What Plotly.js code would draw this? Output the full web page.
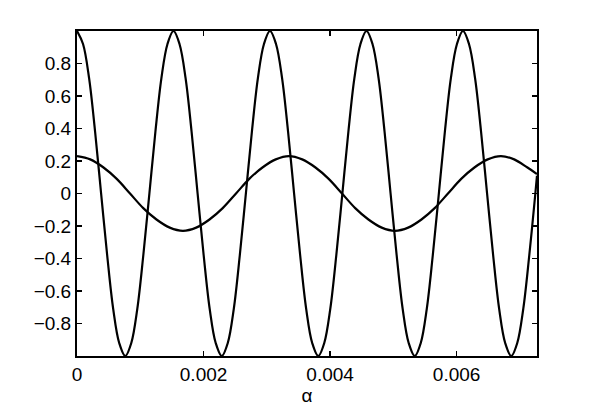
<!DOCTYPE html>
<html>
<head>
<meta charset="utf-8">
<script src="https://cdn.plot.ly/plotly-3.0.1.min.js"></script>
<style>
  html, body { margin: 0; padding: 0; background: #fff; }
  #chart { width: 592px; height: 415px; }
</style>
</head>
<body>
<div id="chart"></div>
<script>
// fast oscillation, read at ~1/16 period steps
const fastX = [0, 0.0000953, 0.000191, 0.000286, 0.000381, 0.000477, 0.000572, 0.000667,
    0.000763, 0.000858, 0.000953, 0.001048, 0.001144, 0.001239, 0.001334, 0.001430,
    0.001525, 0.001620, 0.001716, 0.001811, 0.001906, 0.002002, 0.002097, 0.002192,
    0.002288, 0.002383, 0.002478, 0.002573, 0.002669, 0.002764, 0.002859, 0.002955,
    0.003050, 0.003145, 0.003241, 0.003336, 0.003431, 0.003527, 0.003622, 0.003717,
    0.003813, 0.003908, 0.004003, 0.004098, 0.004194, 0.004289, 0.004384, 0.004480,
    0.004575, 0.004670, 0.004766, 0.004861, 0.004956, 0.005052, 0.005147, 0.005242,
    0.005338, 0.005433, 0.005528, 0.005623, 0.005719, 0.005814, 0.005909, 0.006005,
    0.006100, 0.006195, 0.006291, 0.006386, 0.006481, 0.006577, 0.006672, 0.006767,
    0.006863, 0.006958, 0.007053, 0.007148, 0.007244, 0.00727];
const fastY = [1, 0.92, 0.71, 0.38, 0, -0.38, -0.71, -0.92, -1, -0.92, -0.71, -0.38, 0, 0.38, 0.71, 0.92,
    1, 0.92, 0.71, 0.38, 0, -0.38, -0.71, -0.92, -1, -0.92, -0.71, -0.38, 0, 0.38, 0.71, 0.92,
    1, 0.92, 0.71, 0.38, 0, -0.38, -0.71, -0.92, -1, -0.92, -0.71, -0.38, 0, 0.38, 0.71, 0.92,
    1, 0.92, 0.71, 0.38, 0, -0.38, -0.71, -0.92, -1, -0.92, -0.71, -0.38, 0, 0.38, 0.71, 0.92,
    1, 0.92, 0.71, 0.38, 0, -0.38, -0.71, -0.92, -1, -0.92, -0.71, -0.38, 0, 0.11];

// slow oscillation, small amplitude
const slowX = [0, 0.000209, 0.000419, 0.000628, 0.000838, 0.001047, 0.001256, 0.001466,
    0.001675, 0.001884, 0.002094, 0.002303, 0.002513, 0.002722, 0.002931, 0.003141,
    0.003350, 0.003559, 0.003769, 0.003978, 0.004188, 0.004397, 0.004606, 0.004816,
    0.005025, 0.005234, 0.005444, 0.005653, 0.005863, 0.006072, 0.006281, 0.006491,
    0.006700, 0.006909, 0.007119, 0.00727];
const slowY = [0.23, 0.21, 0.16, 0.09, 0, -0.09, -0.16, -0.21, -0.23, -0.21, -0.16, -0.09, 0, 0.09, 0.16, 0.21,
    0.23, 0.21, 0.16, 0.09, 0, -0.09, -0.16, -0.21, -0.23, -0.21, -0.16, -0.09, 0, 0.09, 0.16, 0.21,
    0.23, 0.21, 0.16, 0.12];

const xTicks = [0, 0.002, 0.004, 0.006];
const xTickText = ['0', '0.002', '0.004', '0.006'];
const yTicks = [-0.8, -0.6, -0.4, -0.2, 0, 0.2, 0.4, 0.6, 0.8];
const yTickText = ['\u22120.8', '\u22120.6', '\u22120.4', '\u22120.2', '0', '0.2', '0.4', '0.6', '0.8'];

const lineStyle = { color: '#000', width: 2.2, shape: 'spline', smoothing: 1 };

const traces = [
    { x: fastX, y: fastY, type: 'scatter', mode: 'lines', line: lineStyle, hoverinfo: 'skip' },
    { x: slowX, y: slowY, type: 'scatter', mode: 'lines', line: lineStyle, hoverinfo: 'skip' }
];

const axisBase = {
    showline: true,
    linecolor: '#000',
    linewidth: 2,
    mirror: 'ticks',
    ticks: 'inside',
    ticklen: 5,
    tickwidth: 1.5,
    tickcolor: '#000',
    showgrid: false,
    zeroline: false,
    tickfont: { family: 'Liberation Sans, Arial, sans-serif', size: 19, color: '#000' }
};

const layout = {
    width: 592,
    height: 415,
    margin: { l: 77, r: 55, t: 31, b: 59 },
    paper_bgcolor: '#fff',
    plot_bgcolor: '#fff',
    showlegend: false,
    font: { family: 'Liberation Sans, Arial, sans-serif', size: 19, color: '#000' },
    xaxis: {
        ...axisBase,
        range: [0, 0.00727],
        tickmode: 'array',
        tickvals: xTicks,
        ticktext: xTickText,
        title: { text: 'α', standoff: 0, font: { size: 19 } }
    },
    yaxis: {
        ...axisBase,
        range: [-1, 1],
        tickmode: 'array',
        tickvals: yTicks,
        ticktext: yTickText
    }
};

Plotly.newPlot('chart', traces, layout, { displayModeBar: false, staticPlot: true });
</script>
</body>
</html>
